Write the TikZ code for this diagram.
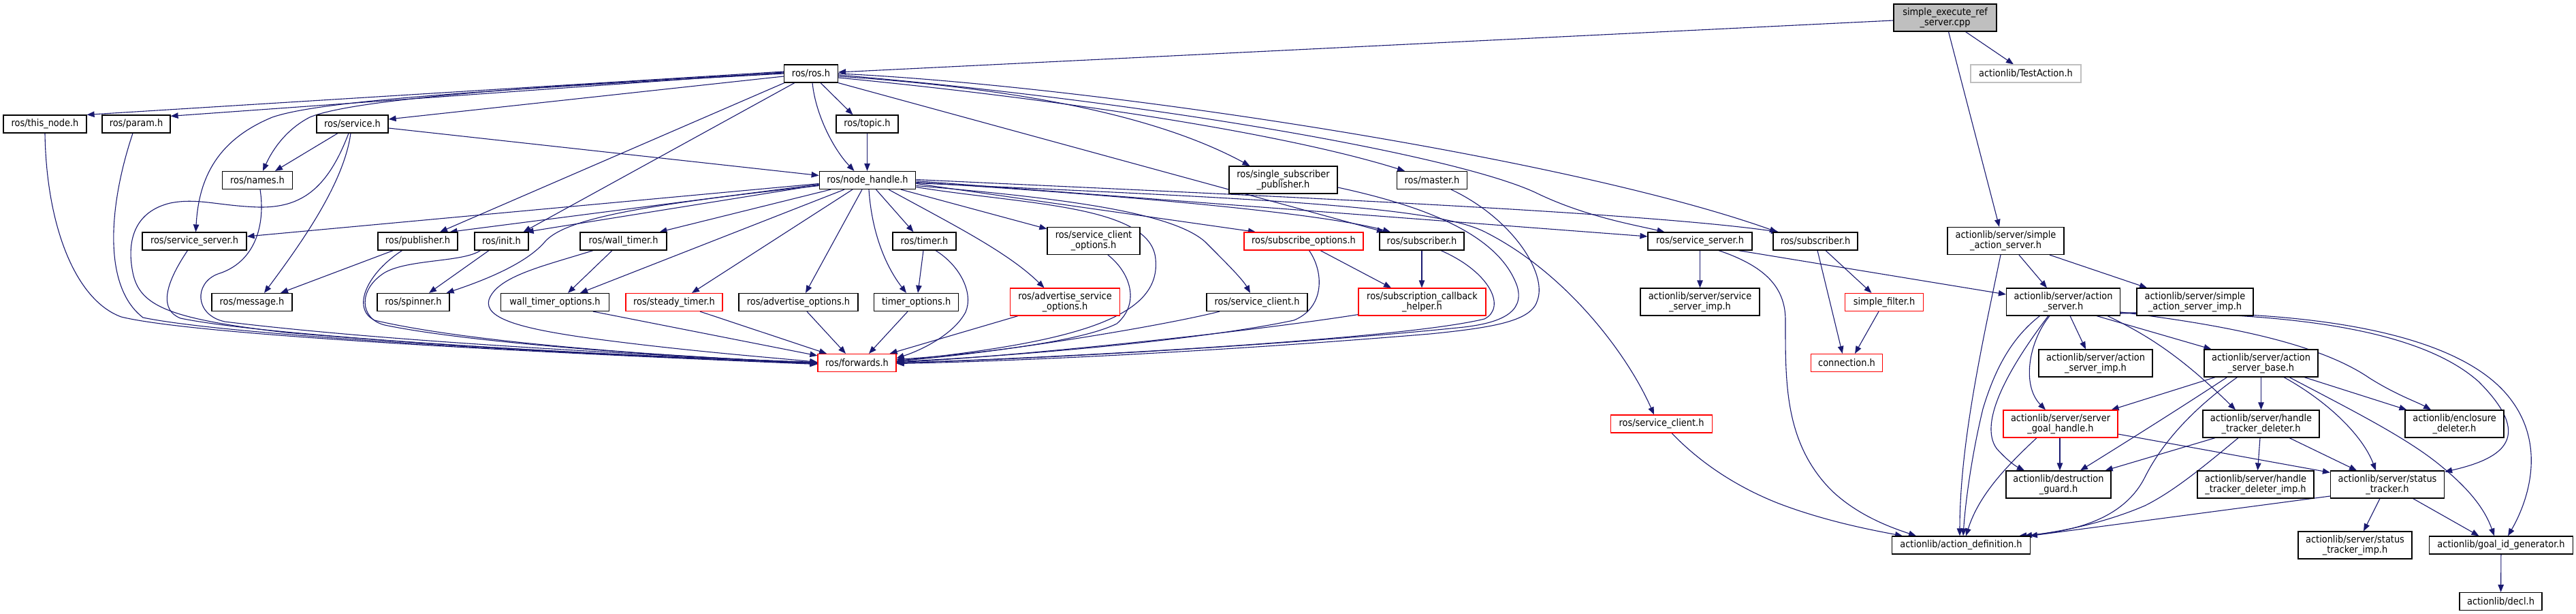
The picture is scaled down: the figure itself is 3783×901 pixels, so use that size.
\documentclass[tikz,border=0pt]{standalone}
\usepackage{fontspec}
\setmainfont{DejaVu Sans Condensed}
\usetikzlibrary{arrows.meta}
\definecolor{edgec}{HTML}{191970}
\definecolor{rootfill}{HTML}{BFBFBF}
\definecolor{lightb}{HTML}{BFBFBF}
\definecolor{redb}{HTML}{FF0000}
\pgfdeclarelayer{background}
\pgfsetlayers{background,main}
\begin{document}
\begin{tikzpicture}[x=1pt,y=-1pt,
  nd/.style={draw=black, line width=1.2pt, fill=white, inner sep=0pt, align=center,
    font=\fontsize{14.4}{15}\selectfont, minimum height=26pt},
  tw/.style={minimum height=40pt},
  rd/.style={draw=redb},
  e/.style={draw=edgec, line width=1.1pt, -{Triangle[length=11pt,width=8.5pt]}}]
\useasboundingbox (0,0) rectangle (3783,901);
% nodes
\node[nd,tw,fill=rootfill,minimum width=151pt] (SE) at (2856.5,26) {simple\_execute\_ref\\\_server.cpp};
\node[nd,minimum width=79pt] (ROS) at (1191,108) {ros/ros.h};
\node[nd,draw=lightb,minimum width=162pt] (TA) at (2975,108) {actionlib/TestAction.h};
\node[nd,minimum width=122pt] (THN) at (66,182) {ros/this\_node.h};
\node[nd,minimum width=100pt] (PAR) at (200,182) {ros/param.h};
\node[nd,minimum width=105pt] (SRV) at (517.5,182) {ros/service.h};
\node[nd,minimum width=91pt] (TOP) at (1273.5,182) {ros/topic.h};
\node[nd,minimum width=103pt] (NAM) at (378,264.5) {ros/names.h};
\node[nd,minimum width=141.5pt] (NH) at (1274,264.5) {ros/node\_handle.h};
\node[nd,tw,minimum width=159pt] (SSP) at (1884.5,264) {ros/single\_subscriber\\\_publisher.h};
\node[nd,minimum width=103pt] (MAS) at (2103,264.5) {ros/master.h};
\node[nd,minimum width=153pt] (SSL) at (285.5,354) {ros/service\_server.h};
\node[nd,minimum width=117pt] (PUB) at (613.5,354) {ros/publisher.h};
\node[nd,minimum width=79pt] (INI) at (736.5,354) {ros/init.h};
\node[nd,minimum width=127pt] (WT) at (915.5,354) {ros/wall\_timer.h};
\node[nd,minimum width=93pt] (TIM) at (1357.5,354) {ros/timer.h};
\node[nd,tw,minimum width=136pt] (SCO) at (1606,353.5) {ros/service\_client\\\_options.h};
\node[nd,rd,minimum width=175pt] (SUO) at (1914.5,354) {ros/subscribe\_options.h};
\node[nd,minimum width=124pt] (SUB1) at (2088,354) {ros/subscriber.h};
\node[nd,minimum width=153pt] (SSR) at (2496.5,354) {ros/service\_server.h};
\node[nd,minimum width=124pt] (SUB2) at (2666,354) {ros/subscriber.h};
\node[nd,tw,minimum width=171pt] (SAS) at (2945.5,353.5) {actionlib/server/simple\\\_action\_server.h};
\node[nd,minimum width=118pt] (MSG) at (370,443.5) {ros/message.h};
\node[nd,minimum width=106pt] (SPN) at (607,443.5) {ros/spinner.h};
\node[nd,minimum width=158.5pt] (WTO) at (815,443.5) {wall\_timer\_options.h};
\node[nd,rd,minimum width=142pt] (STT) at (990,443.5) {ros/steady\_timer.h};
\node[nd,minimum width=175pt] (ADO) at (1172.5,443.5) {ros/advertise\_options.h};
\node[nd,minimum width=124pt] (TO) at (1345.7,443.5) {timer\_options.h};
\node[nd,tw,rd,minimum width=161pt] (ASO) at (1564,443) {ros/advertise\_service\\\_options.h};
\node[nd,minimum width=148pt] (SCL) at (1846,443.5) {ros/service\_client.h};
\node[nd,tw,rd,minimum width=187pt] (SCH) at (2088.5,443) {ros/subscription\_callback\\\_helper.h};
\node[nd,tw,minimum width=175pt] (SSI) at (2496.5,443) {actionlib/server/service\\\_server\_imp.h};
\node[nd,rd,minimum width=115.5pt] (SF) at (2767,443.5) {simple\_filter.h};
\node[nd,tw,minimum width=167pt] (AS) at (3030,443) {actionlib/server/action\\\_server.h};
\node[nd,tw,minimum width=171pt] (SASI) at (3223.5,443) {actionlib/server/simple\\\_action\_server\_imp.h};
\node[nd,rd,minimum width=115pt] (FWD) at (1258.5,532.5) {ros/forwards.h};
\node[nd,rd,minimum width=105pt] (CON) at (2712,532.5) {connection.h};
\node[nd,tw,minimum width=167pt] (ASI) at (3077.5,533) {actionlib/server/action\\\_server\_imp.h};
\node[nd,tw,minimum width=167pt] (ASB) at (3320.5,533) {actionlib/server/action\\\_server\_base.h};
\node[nd,rd,minimum width=148.5pt] (SCR) at (2440,622) {ros/service\_client.h};
\node[nd,tw,rd,minimum width=168pt] (SGH) at (3026,622) {actionlib/server/server\\\_goal\_handle.h};
\node[nd,tw,minimum width=171pt] (HTD) at (3320.5,622) {actionlib/server/handle\\\_tracker\_deleter.h};
\node[nd,tw,minimum width=145pt] (ED) at (3604.5,622) {actionlib/enclosure\\\_deleter.h};
\node[nd,tw,minimum width=154pt] (DG) at (3023,711) {actionlib/destruction\\\_guard.h};
\node[nd,tw,minimum width=171pt] (HTDI) at (3312.5,711) {actionlib/server/handle\\\_tracker\_deleter\_imp.h};
\node[nd,tw,minimum width=167pt] (ST) at (3506,711) {actionlib/server/status\\\_tracker.h};
\node[nd,minimum width=202.6pt] (AD) at (2880,800) {actionlib/action\_definition.h};
\node[nd,tw,minimum width=167pt] (STI) at (3458.5,800) {actionlib/server/status\\\_tracker\_imp.h};
\node[nd,minimum width=211.6pt] (GIG) at (3673,800) {actionlib/goal\_id\_generator.h};
\node[nd,minimum width=121pt] (DECL) at (3672.5,882.5) {actionlib/decl.h};

\begin{pgfonlayer}{background}
% root
\draw[e] ([yshift=-4pt]SE.west) -- ([yshift=2pt]ROS.east);
\draw[e] ([xshift=30pt]SE.south) -- ([xshift=-18pt]TA.north);
\draw[e] ([xshift=5pt]SE.south) -- ([xshift=-9.5pt]SAS.north);
% ros.h
\draw[e] ([yshift=3pt]ROS.west) -- (THN.north east);
\draw[e] ([yshift=2pt]ROS.west) -- ([yshift=-2pt]PAR.north east);
\draw[e] ([yshift=1pt]ROS.west) .. controls (800,125) and (520,145) .. (455,172) .. controls (420,190) and (400,220) .. ([xshift=8pt]NAM.north);
\draw[e] (ROS.west) .. controls (700,133) and (470,148) .. (400,172) .. controls (320,205) and (292,260) .. ([xshift=2pt]SSL.north);
\draw[e] ([yshift=-4pt]ROS.west) -- ([yshift=7pt]SRV.east);
\draw[e] ([xshift=1pt]ROS.south west) -- ([xshift=32.5pt]PUB.north);
\draw[e] ([xshift=16pt]ROS.south west) -- ([xshift=32pt]INI.north);
\draw[e] ([xshift=14pt]ROS.south) -- ([xshift=-21pt]TOP.north);
\draw[e] ([xshift=2pt]ROS.south) .. controls (1198,170) and (1225,220) .. ([xshift=-19.5pt]NH.north);
\draw[e] ([yshift=-4pt]ROS.east) .. controls (1500,130) and (1700,170) .. ([xshift=-49pt]SSP.north);
\draw[e] ([yshift=-6pt]ROS.east) .. controls (1600,150) and (1900,200) .. ([xshift=-40pt]MAS.north);
\draw[e] (ROS.south east) -- ([xshift=-55pt]SUB1.north);
\draw[e] ([yshift=-2pt]ROS.east) .. controls (1700,150) and (2150,230) .. (2260,285) .. controls (2330,318) and (2400,330) .. ([xshift=-52pt]SSR.north);
\draw[e] (ROS.east) .. controls (1600,125) and (2300,230) .. ([xshift=-56pt]SUB2.north);
% topic
\draw[e] (TOP.south) -- (TOP.south |- NH.north);
% service.h
\draw[e] ([yshift=-6pt]SRV.east) -- ([yshift=7pt]NH.west);
\draw[e] ([xshift=-21.5pt]SRV.south) -- ([xshift=26pt]NAM.north);
\draw[e] ([xshift=-2.5pt]SRV.south) .. controls (505,270) and (440,360) .. ([xshift=18pt]MSG.north);
\draw[e] ([xshift=-5.5pt]SRV.south) .. controls (480,280) and (440,305) .. (380,304) .. controls (320,302) and (290,290) .. (250,298) .. controls (200,310) and (185,350) .. (195,400) .. controls (205,450) and (250,468) .. (420,488) .. controls (700,512) and (1000,525) .. ([yshift=1pt]FWD.west);
% names
\draw[e] ([xshift=4pt]NAM.south) .. controls (390,330) and (375,385) .. (320,402) .. controls (285,415) and (285,462) .. (330,472) .. controls (600,505) and (1000,522) .. ([yshift=-1pt]FWD.west);
% this_node, param, service_server
\draw[e] (THN.south) .. controls (68,330) and (110,440) .. (178,465) .. controls (300,495) and (900,522) .. ([yshift=-2pt]FWD.west);
\draw[e] ([xshift=-5pt]PAR.south) .. controls (160,300) and (150,420) .. (210,466) .. controls (350,495) and (900,522) .. ([yshift=-1pt]FWD.west);
\draw[e] ([xshift=-10pt]SSL.south) .. controls (240,420) and (235,455) .. (265,467) .. controls (400,495) and (900,522) .. ([yshift=-1pt]FWD.west);
% publisher
\draw[e] ([xshift=-36pt]PUB.south) -- ([xshift=42pt]MSG.north);
\draw[e] ([xshift=-23pt]PUB.south) .. controls (540,400) and (515,452) .. (550,470) .. controls (700,505) and (1000,524) .. (FWD.west);
% init
\draw[e] ([xshift=-18.5pt]INI.south) -- ([xshift=23pt]SPN.north);
\draw[e] ([xshift=-31pt]INI.south) .. controls (680,385) and (600,380) .. (565,400) .. controls (525,425) and (528,468) .. (565,477) .. controls (700,505) and (1000,524) .. (FWD.west);
% wall timer
\draw[e] ([xshift=-16.5pt]WT.south) -- ([xshift=19pt]WTO.north);
\draw[e] ([xshift=-44.5pt]WT.south) .. controls (800,390) and (730,405) .. (718,440) .. controls (710,468) and (770,482) .. (850,494) .. controls (1000,515) and (1150,526) .. ([yshift=1pt]FWD.west);
\draw[e] ([xshift=56pt]WTO.south) -- ([yshift=-3pt]FWD.north west);
\draw[e] ([xshift=38pt]STT.south) -- ([xshift=-44.5pt]FWD.north);
\draw[e] ([xshift=12.5pt]ADO.south) -- ([xshift=-16.5pt]FWD.north);
\draw[e] ([xshift=-12.7pt]TO.south) -- ([xshift=17.5pt]FWD.north);
% node_handle
\draw[e] ([yshift=-5pt]NH.west) -- ([yshift=7pt]SSL.east);
\draw[e] ([yshift=-6pt]NH.west) -- ([xshift=47pt]PUB.north);
\draw[e] ([yshift=-7pt]NH.west) -- ([xshift=-4pt]INI.north east);
\draw[e] ([yshift=-8pt]NH.west) .. controls (950,300) and (830,320) .. (800,355) .. controls (770,390) and (700,415) .. ([xshift=-5pt]SPN.north east);
\draw[e] ([xshift=-54pt]NH.south) -- ([xshift=53pt]WT.north);
\draw[e] ([xshift=-34pt]NH.south) -- ([xshift=37pt]WTO.north);
\draw[e] ([xshift=-22pt]NH.south) -- ([xshift=26pt]STT.north);
\draw[e] ([xshift=-8pt]NH.south) -- ([xshift=10.5pt]ADO.north);
\draw[e] ([xshift=2pt]NH.south) .. controls (1280,340) and (1300,390) .. ([xshift=-14.7pt]TO.north);
\draw[e] ([xshift=12.5pt]NH.south) -- ([xshift=-16pt]TIM.north);
\draw[e] ([xshift=31pt]NH.south) .. controls (1400,330) and (1480,370) .. ([xshift=-30.5pt]ASO.north);
\draw[e] ([xshift=49pt]NH.south) -- ([yshift=-3pt]SCO.north west);
\draw[e] ([yshift=-8pt]NH.east) .. controls (1550,290) and (1720,310) .. (1770,355) .. controls (1800,385) and (1825,410) .. ([xshift=-10pt]SCL.north);
\draw[e] ([yshift=-10pt]NH.east) .. controls (1500,300) and (1690,300) .. (1697,380) .. controls (1705,460) and (1600,500) .. ([yshift=3pt]FWD.east);
\draw[e] ([yshift=-5pt]NH.east) -- ([xshift=-70.5pt]SUO.north);
\draw[e] ([yshift=-3pt]NH.east) .. controls (1700,290) and (1950,315) .. ([xshift=-46pt]SUB1.north);
\draw[e] ([yshift=-1pt]NH.east) -- ([yshift=7pt]SSR.west);
\draw[e] ([yshift=1pt]NH.east) .. controls (1800,285) and (2400,310) .. ([xshift=-54pt]SUB2.north);
\draw[e] ([yshift=-4pt]NH.east) .. controls (1800,290) and (2100,300) .. (2180,340) .. controls (2300,400) and (2390,520) .. ([xshift=-11pt]SCR.north);
% timer
\draw[e] ([xshift=-1.5pt]TIM.south) -- ([xshift=2.3pt]TO.north);
\draw[e] ([xshift=16.5pt]TIM.south) .. controls (1410,390) and (1430,430) .. (1418,458) .. controls (1400,492) and (1350,515) .. ([yshift=7pt]FWD.east);
% options
\draw[e] ([xshift=-69pt]ASO.south) -- ([xshift=-10pt]FWD.north east);
\draw[e] ([xshift=21pt]SCO.south) .. controls (1660,400) and (1675,445) .. (1640,475) .. controls (1580,505) and (1400,522) .. ([yshift=5pt]FWD.east);
\draw[e] ([xshift=-55pt]SCL.south) .. controls (1700,480) and (1450,520) .. ([yshift=3pt]FWD.east);
\draw[e] ([xshift=8pt]SUO.south) .. controls (1945,400) and (1945,452) .. (1900,470) .. controls (1750,502) and (1450,525) .. ([yshift=2pt]FWD.east);
\draw[e] ([xshift=24.5pt]SUO.south) -- ([xshift=-45.5pt]SCH.north);
\draw[e] ([yshift=2pt]SCH.south west) .. controls (1800,492) and (1450,526) .. ([yshift=1pt]FWD.east);
% subscriber 1
\draw[e] (SUB1.south) -- (SUB1.south |- SCH.north);
\draw[e] ([xshift=28pt]SUB1.south) .. controls (2190,400) and (2212,452) .. (2180,468) .. controls (2050,500) and (1500,527) .. (FWD.east);
% single subscriber publisher, master
\draw[e] ([yshift=-11pt]SSP.east) .. controls (2080,300) and (2200,340) .. (2228,420) .. controls (2240,460) and (2200,474) .. (2150,480) .. controls (1900,506) and (1500,528) .. (FWD.east);
\draw[e] ([xshift=28pt]MAS.south) .. controls (2220,320) and (2272,400) .. (2258,440) .. controls (2250,470) and (2200,480) .. (2100,490) .. controls (1800,515) and (1500,530) .. ([yshift=-1pt]FWD.east);
% service server right
\draw[e] (SSR) -- (SSI);
\draw[e] ([xshift=27.5pt]SSR.south) .. controls (2590,390) and (2622,420) .. (2622,470) .. controls (2622,560) and (2620,650) .. (2690,720) .. controls (2730,758) and (2780,775) .. ([xshift=-66pt]AD.north);
\draw[e] ([xshift=56.5pt]SSR.south) -- ([yshift=11pt]AS.west);
% service client red
\draw[e] ([xshift=15pt]SCR.south) .. controls (2490,672) and (2540,710) .. (2610,738) .. controls (2680,765) and (2750,778) .. ([xshift=-86pt]AD.north);
% subscriber 2
\draw[e] ([xshift=15pt]SUB2.south) -- ([xshift=-18.5pt]SF.north);
\draw[e] ([xshift=3pt]SUB2.south) -- ([xshift=-6.3pt]CON.north);
\draw[e] ([xshift=-8pt]SF.south) -- ([xshift=12pt]CON.north);
% simple action server
\draw[e] ([xshift=-7.5pt]SAS.south) .. controls (2912,500) and (2878,650) .. ([xshift=-2pt]AD.north);
\draw[e] ([xshift=19.5pt]SAS.south) -- ([xshift=-24pt]AS.north);
\draw[e] ([xshift=64.5pt]SAS.south) -- ([xshift=-70.5pt]SASI.north);
% action server
\draw[e] ([xshift=-34.5pt]AS.south) .. controls (2955,495) and (2930,540) .. (2912,600) .. controls (2895,670) and (2886,740) .. ([xshift=3pt]AD.north);
\draw[e] ([xshift=-20pt]AS.south) .. controls (2980,500) and (2968,565) .. ([xshift=-22pt]SGH.north);
\draw[e] ([xshift=-22pt]AS.south) .. controls (2950,540) and (2905,620) .. (2932,658) .. controls (2948,676) and (2960,684) .. ([xshift=-50pt]DG.north);
\draw[e] ([xshift=10pt]AS.south) -- ([xshift=-14.5pt]ASI.north);
\draw[e] ([xshift=49pt]AS.south) -- ([xshift=-73pt]ASB.north);
\draw[e] ([xshift=65pt]AS.south) .. controls (3150,490) and (3200,520) .. ([xshift=-37.5pt]HTD.north);
\draw[e] ([yshift=-15pt]AS.east) .. controls (3250,475) and (3400,500) .. (3480,555) .. controls (3520,580) and (3550,590) .. ([xshift=-34.5pt]ED.north);
\draw[e] ([yshift=-16pt]AS.east) .. controls (3350,458) and (3550,480) .. (3640,560) .. controls (3720,640) and (3680,672) .. ([yshift=-2pt]ST.north east);
\draw[e] ([yshift=-17pt]AS.east) .. controls (3400,452) and (3620,490) .. (3690,590) .. controls (3740,660) and (3710,740) .. ([xshift=10pt]GIG.north);
% server goal handle
\draw[e] ([xshift=-1pt]SGH.south) -- ([xshift=2pt]DG.north);
\draw[e] ([xshift=-35pt]SGH.south) .. controls (2940,690) and (2905,730) .. ([xshift=7pt]AD.north);
\draw[e] ([yshift=-15pt]SGH.east) -- ([yshift=-3pt]ST.north west);
% action server base
\draw[e] ([xshift=-67.5pt]ASB.south) -- ([xshift=-10pt]SGH.north east);
\draw[e] ([xshift=-50pt]ASB.south) .. controls (3200,600) and (3120,650) .. ([xshift=32pt]DG.north);
\draw[e] ([xshift=-35pt]ASB.south) .. controls (3220,600) and (3175,650) .. (3150,700) .. controls (3120,760) and (3050,780) .. ([xshift=85pt]AD.north);
\draw[e] (ASB) -- (HTD);
\draw[e] ([xshift=63.5pt]ASB.south) -- ([xshift=3pt]ED.north west);
\draw[e] ([xshift=33.5pt]ASB.south) .. controls (3420,590) and (3470,640) .. ([xshift=-17pt]ST.north);
\draw[e] ([xshift=41.5pt]ASB.south) .. controls (3450,600) and (3530,640) .. (3580,680) .. controls (3630,720) and (3650,750) .. ([xshift=-10pt]GIG.north);
% handle tracker deleter
\draw[e] ([xshift=-67.5pt]HTD.south) -- ([xshift=-9pt]DG.north east);
\draw[e] ([xshift=-33.5pt]HTD.south) .. controls (3230,690) and (3190,722) .. (3150,742) .. controls (3080,772) and (3010,782) .. ([xshift=93pt]AD.north);
\draw[e] ([xshift=-1.5pt]HTD.south) -- ([xshift=3pt]HTDI.north);
\draw[e] ([xshift=41.5pt]HTD.south) -- ([xshift=-45pt]ST.north);
% status tracker
\draw[e] ([yshift=-17pt]ST.west) -- ([xshift=-1pt]AD.north east);
\draw[e] ([xshift=-11pt]ST.south) -- ([xshift=12.5pt]STI.north);
\draw[e] ([xshift=37.6pt]ST.south) -- ([xshift=-32.5pt]GIG.north);
% goal id generator
\draw[e] (GIG) -- (DECL);
\end{pgfonlayer}
\end{tikzpicture}
\end{document}
